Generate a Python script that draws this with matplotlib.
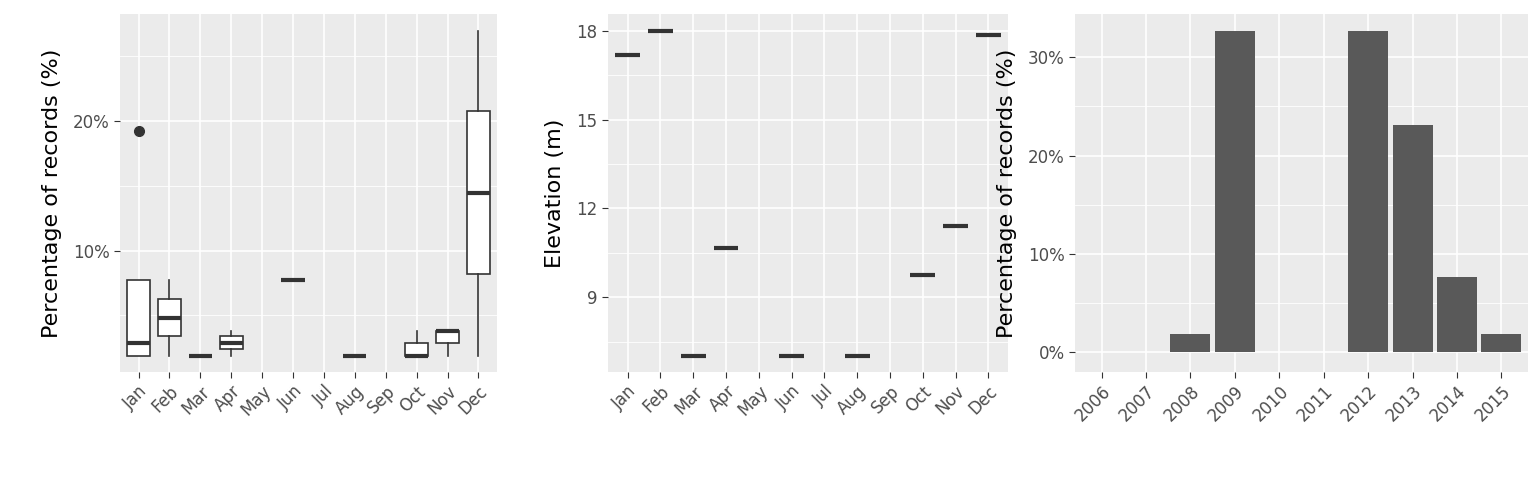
import numpy as np
import matplotlib
matplotlib.use("Agg")
import matplotlib.pyplot as plt
from matplotlib.ticker import FuncFormatter

MONTHS = ["Jan", "Feb", "Mar", "Apr", "May", "Jun", "Jul", "Aug", "Sep", "Oct", "Nov", "Dec"]

# box stats (percent) per month with data
BOX_MONTH = ["Jan", "Feb", "Mar", "Apr", "Jun", "Aug", "Oct", "Nov", "Dec"]
BOX_LO = [1.9, 1.9, 1.9, 1.9, 7.7, 1.9, 1.9, 1.9, 1.9]
BOX_Q1 = [1.9, 3.4, 1.9, 2.4, 7.7, 1.9, 1.9, 2.9, 8.2]
BOX_MED = [2.9, 4.8, 1.9, 2.9, 7.7, 1.9, 1.9, 3.8, 14.4]
BOX_Q3 = [7.7, 6.3, 1.9, 3.4, 7.7, 1.9, 2.9, 3.8, 20.7]
BOX_HI = [7.7, 7.7, 1.9, 3.8, 7.7, 1.9, 3.8, 3.8, 26.9]
BOX_FLIERS = [[19.2], [], [], [], [], [], [], [], []]

ELEV_MONTH = ["Jan", "Feb", "Mar", "Apr", "Jun", "Aug", "Oct", "Nov", "Dec"]
ELEV = [17.2, 18.0, 7.0, 10.67, 7.0, 7.0, 9.75, 11.4, 17.85]

YEARS = list(range(2006, 2016))
YEAR_PCT = [0, 0, 1.9, 32.7, 0, 0, 32.7, 23.1, 7.7, 1.9]

BG = "#EBEBEB"
DARK = "#333333"
plt.rcParams.update({"font.family": "DejaVu Sans"})


def style(ax):
    ax.set_facecolor(BG)
    for s in ax.spines.values():
        s.set_visible(False)
    ax.grid(True, color="white", lw=1.2)
    ax.set_axisbelow(True)
    ax.tick_params(colors="#333333", labelcolor="#4D4D4D", labelsize=12, length=4)
    ax.tick_params(which="minor", length=0)


fig = plt.figure(figsize=(15.36, 4.8), dpi=100)
W, H = 1536, 480
ax1 = fig.add_axes([120 / W, 1 - 372 / H, 377 / W, 358 / H])
ax2 = fig.add_axes([608 / W, 1 - 372 / H, 400 / W, 358 / H])
ax3 = fig.add_axes([1075 / W, 1 - 372 / H, 453 / W, 358 / H])

# Panel 1: boxplots
style(ax1)
stats = []
pos = []
for i, m in enumerate(BOX_MONTH):
    stats.append(dict(med=BOX_MED[i], q1=BOX_Q1[i], q3=BOX_Q3[i],
                      whislo=BOX_LO[i], whishi=BOX_HI[i], fliers=BOX_FLIERS[i]))
    pos.append(MONTHS.index(m) + 1)
ax1.bxp(stats, positions=pos, widths=0.75, patch_artist=True,
        boxprops=dict(facecolor="white", edgecolor=DARK, lw=1.2),
        medianprops=dict(color=DARK, lw=3),
        whiskerprops=dict(color=DARK, lw=1.2), capprops=dict(lw=0),
        flierprops=dict(marker="o", markerfacecolor=DARK, markeredgecolor=DARK, markersize=7))
ax1.set_xlim(0.4, 12.6)
ax1.set_ylim(0.65, 28.2)
ax1.set_yticks([10, 20])
ax1.set_yticks([5, 15, 25], minor=True)
ax1.yaxis.set_major_formatter(FuncFormatter(lambda v, p: f"{v:.0f}%"))
ax1.set_xticks(range(1, 13))
ax1.set_xticklabels(MONTHS, rotation=45, ha="right", rotation_mode="anchor")
ax1.grid(True, which="minor", axis="y", color="white", lw=0.6)
ax1.set_ylabel("Percentage of records (%)", fontsize=16, labelpad=8)

# Panel 2: elevation
style(ax2)
for m, e in zip(ELEV_MONTH, ELEV):
    x = MONTHS.index(m) + 1
    ax2.plot([x - 0.38, x + 0.38], [e, e], color=DARK, lw=3, solid_capstyle="butt")
ax2.set_xlim(0.4, 12.6)
ax2.set_ylim(6.47, 18.57)
ax2.set_yticks([9, 12, 15, 18])
ax2.set_yticks([7.5, 10.5, 13.5, 16.5], minor=True)
ax2.grid(True, which="minor", axis="y", color="white", lw=0.6)
ax2.set_xticks(range(1, 13))
ax2.set_xticklabels(MONTHS, rotation=45, ha="right", rotation_mode="anchor")
ax2.set_ylabel("Elevation (m)", fontsize=16, labelpad=8)

# Panel 3: bars by year
style(ax3)
ax3.bar(range(len(YEARS)), YEAR_PCT, width=0.9, color="#595959")
ax3.set_xlim(-0.6, len(YEARS) - 0.4)
ax3.set_ylim(-2.0, 34.4)
ax3.set_yticks([0, 10, 20, 30])
ax3.set_yticks([5, 15, 25], minor=True)
ax3.grid(True, which="minor", axis="y", color="white", lw=0.6)
ax3.yaxis.set_major_formatter(FuncFormatter(lambda v, p: f"{v:.0f}%"))
ax3.set_xticks(range(len(YEARS)))
ax3.set_xticklabels([str(y) for y in YEARS], rotation=45, ha="right", rotation_mode="anchor")
ax3.set_ylabel("Percentage of records (%)", fontsize=16, labelpad=8)

fig.savefig("out.png", dpi=100)
